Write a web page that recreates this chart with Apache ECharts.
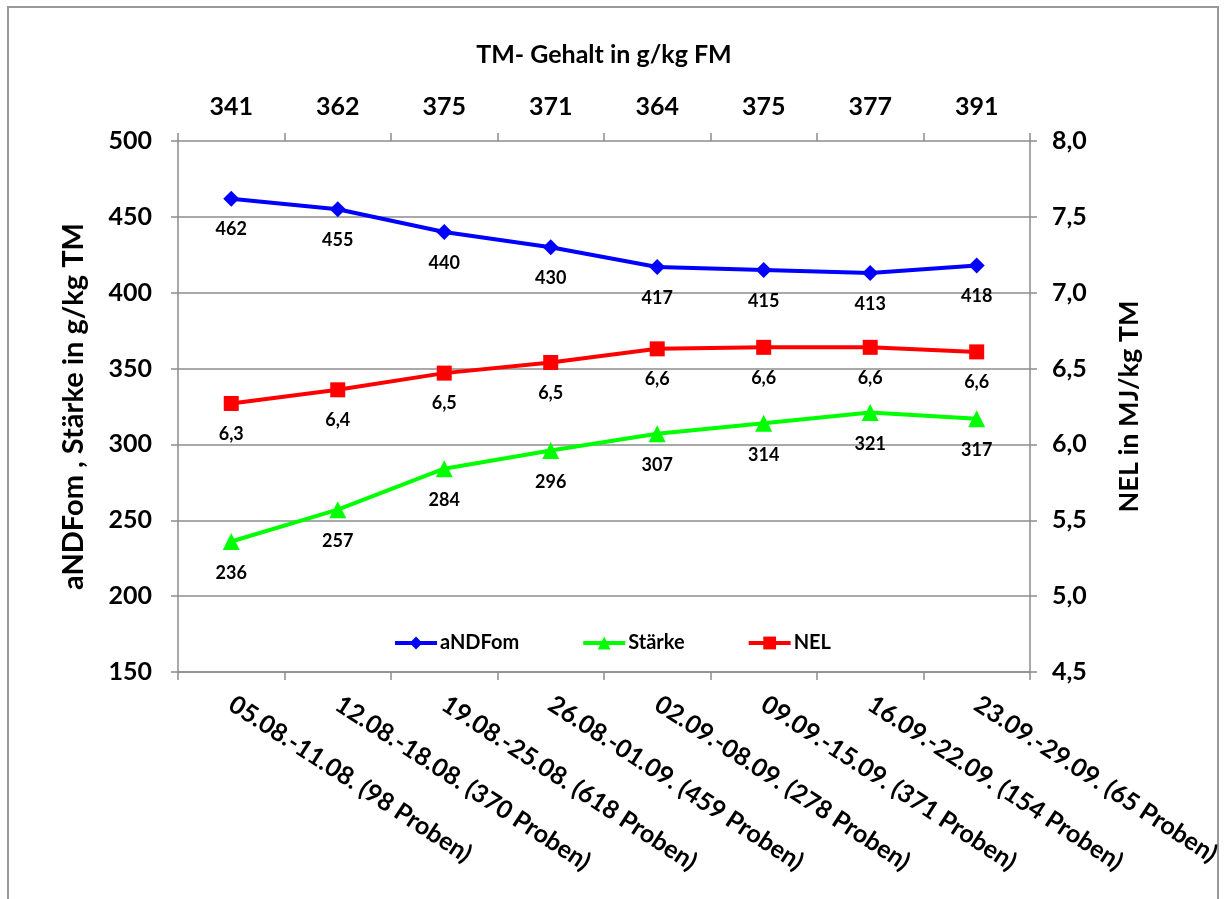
<!DOCTYPE html>
<html><head><meta charset="utf-8">
<script src="https://cdn.jsdelivr.net/npm/echarts@6/dist/echarts.min.js"></script>
<style>html,body{margin:0;padding:0;background:#fff}#c{width:1224px;height:899px}</style>
</head><body><div id="c"></div>
<script>
const categories = ["05.08.-11.08. (98 Proben)","12.08.-18.08. (370 Proben)","19.08.-25.08. (618 Proben)","26.08.-01.09. (459 Proben)","02.09.-08.09. (278 Proben)","09.09.-15.09. (371 Proben)","16.09.-22.09. (154 Proben)","23.09.-29.09. (65 Proben)"];
const tmGehalt = ["341","362","375","371","364","375","377","391"];
const aNDFom = [462,455,440,430,417,415,413,418];
const staerke = [236,257,284,296,307,314,321,317];
const nel = [6.27,6.36,6.47,6.54,6.63,6.64,6.64,6.61];

const FONT = "Lato";
const chart = echarts.init(document.getElementById('c'));
const gray = '#8c8c8c';
const lbl = (fmt) => ({show:true, position:'bottom', distance:14, color:'#000', fontFamily:FONT, fontWeight:'bold', fontSize:18, formatter: fmt});
chart.setOption({
  animation:false,
  textStyle:{fontFamily:FONT},
  graphic:[{type:'rect', shape:{x:8,y:7,width:1210,height:910}, style:{fill:'none', stroke:'#999', lineWidth:2}, silent:true}],
  grid:{left:178, right:194, top:141, bottom:227},
  legend:{top:628, left:'center', itemGap:62, itemWidth:42, itemHeight:16,
    lineStyle:{width:4},
    textStyle:{fontFamily:FONT, fontWeight:'bold', fontSize:20, color:'#000', padding:[0,0,0,-2]},
    data:['aNDFom','Stärke','NEL']},
  xAxis:[
    {type:'category', data:categories, position:'bottom', boundaryGap:true,
     axisLine:{lineStyle:{color:gray, width:1.5}}, axisTick:{show:true, length:8, inside:false, lineStyle:{color:gray, width:1.5}},
     axisLabel:{rotate:-33, margin:30, color:'#000', fontFamily:FONT, fontWeight:'bold', fontSize:25, interval:0}},
    {type:'category', data:tmGehalt, position:'top', boundaryGap:true,
     name:'TM- Gehalt in g/kg FM', nameLocation:'middle', nameGap:74,
     nameTextStyle:{color:'#000', fontFamily:FONT, fontWeight:'bold', fontSize:25},
     axisLine:{show:false}, axisTick:{show:true, length:8, lineStyle:{color:gray, width:1.5}},
     axisLabel:{margin:22, color:'#000', fontFamily:FONT, fontWeight:'bold', fontSize:25, interval:0}}
  ],
  yAxis:[
    {type:'value', min:150, max:500, interval:50, position:'left',
     name:'aNDFom , Stärke in g/kg TM', nameLocation:'middle', nameGap:90, nameRotate:90,
     nameTextStyle:{color:'#000', fontFamily:FONT, fontWeight:'bold', fontSize:29},
     axisLine:{show:true, lineStyle:{color:gray, width:1.5}}, axisTick:{show:true, length:7, lineStyle:{color:gray, width:1.5}},
     splitLine:{show:true, lineStyle:{color:gray, width:1.5}},
     axisLabel:{margin:26, color:'#000', fontFamily:FONT, fontWeight:'bold', fontSize:25}},
    {type:'value', min:4.5, max:8.0, interval:0.5, position:'right',
     name:'NEL in MJ/kg TM', nameLocation:'middle', nameGap:86, nameRotate:90,
     nameTextStyle:{color:'#000', fontFamily:FONT, fontWeight:'bold', fontSize:27},
     axisLine:{show:true, lineStyle:{color:gray, width:1.5}}, axisTick:{show:true, length:7, lineStyle:{color:gray, width:1.5}},
     splitLine:{show:false},
     axisLabel:{margin:22, color:'#000', fontFamily:FONT, fontWeight:'bold', fontSize:25,
       formatter:v=>v.toFixed(1).replace('.',',')}}
  ],
  series:[
    {name:'aNDFom', type:'line', data:aNDFom, xAxisIndex:0, yAxisIndex:0,
     symbol:'diamond', symbolSize:16, lineStyle:{color:'#0000ff', width:4}, itemStyle:{color:'#0000ff'},
     label:lbl(p=>p.value)},
    {name:'Stärke', type:'line', data:staerke, xAxisIndex:0, yAxisIndex:0,
     symbol:'triangle', symbolSize:17, lineStyle:{color:'#00ff00', width:4}, itemStyle:{color:'#00ff00'},
     label:lbl(p=>p.value)},
    {name:'NEL', type:'line', data:nel, xAxisIndex:0, yAxisIndex:1,
     symbol:'rect', symbolSize:15, lineStyle:{color:'#ff0000', width:4}, itemStyle:{color:'#ff0000'},
     label:lbl(p=>p.value.toFixed(1).replace('.',','))}
  ]
});
</script></body></html>
